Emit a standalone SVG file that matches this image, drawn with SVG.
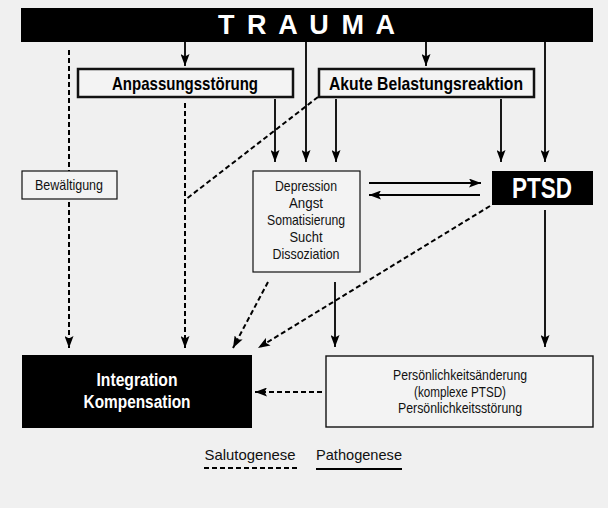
<svg xmlns="http://www.w3.org/2000/svg" width="608" height="508" viewBox="0 0 608 508">
<defs>
<marker id="ah" viewBox="0 0 12 9" refX="12" refY="4.5" markerWidth="12" markerHeight="9" markerUnits="userSpaceOnUse" orient="auto">
<path d="M0,0 L12,4.5 L0,9 L2.5,4.5 z" fill="#000"/>
</marker>
<style>
.bg{fill:#f0f0f0}
.box{fill:#f3f3f3;stroke:#111}
.blk{fill:#000}
.sol{fill:none;stroke:#000;stroke-width:1.8}
.dsh{fill:none;stroke:#000;stroke-width:2;stroke-dasharray:5 3}
.tb{font-family:"Liberation Sans",Arial,sans-serif;font-weight:bold;text-anchor:middle}
.tr{font-family:"Liberation Sans",Arial,sans-serif;font-size:15px;text-anchor:middle;fill:#111}
.w{fill:#fff}
</style>
</defs>
<rect class="bg" x="0" y="0" width="608" height="508"/>

<g id="connectors">
<line class="sol" x1="185" y1="42" x2="185" y2="66" marker-end="url(#ah)"/>
<line class="sol" x1="426" y1="42" x2="426" y2="66" marker-end="url(#ah)"/>
<line class="sol" x1="306" y1="42" x2="306" y2="162" marker-end="url(#ah)"/>
<line class="sol" x1="275" y1="99" x2="275" y2="162" marker-end="url(#ah)"/>
<line class="sol" x1="336" y1="99" x2="336" y2="162" marker-end="url(#ah)"/>
<line class="sol" x1="501" y1="99" x2="501" y2="162" marker-end="url(#ah)"/>
<line class="sol" x1="545" y1="42" x2="545" y2="162" marker-end="url(#ah)"/>
<line class="sol" x1="369" y1="183" x2="481" y2="183" marker-end="url(#ah)"/>
<line class="sol" x1="480" y1="195" x2="369" y2="195" marker-end="url(#ah)"/>
<line class="sol" x1="335" y1="282" x2="335" y2="347" marker-end="url(#ah)"/>
<line class="sol" x1="545" y1="210" x2="545" y2="347" marker-end="url(#ah)"/>
<line class="dsh" x1="69" y1="50" x2="69" y2="348" marker-end="url(#ah)"/>
<line class="dsh" x1="185" y1="103" x2="185" y2="348" marker-end="url(#ah)"/>
<line class="dsh" x1="318" y1="97" x2="185" y2="200"/>
<line class="dsh" x1="268" y1="282" x2="233" y2="348" marker-end="url(#ah)"/>
<line class="dsh" x1="490" y1="206" x2="258" y2="348" marker-end="url(#ah)"/>
<line class="dsh" x1="322" y1="392" x2="255" y2="392" marker-end="url(#ah)"/>
</g>

<g id="trauma">
<rect class="blk" x="21" y="8" width="572" height="34"/>
<text class="tb w" x="306.5" y="34" font-size="27" textLength="177" lengthAdjust="spacing">T R A U M A</text>
</g>

<g id="anpassung">
<rect class="box" x="78" y="69" width="215" height="28" stroke-width="2.5"/>
<text class="tb" x="185" y="90" font-size="19" textLength="146" lengthAdjust="spacingAndGlyphs">Anpassungsstörung</text>
</g>

<g id="akute">
<rect class="box" x="319" y="69" width="215" height="28" stroke-width="2.5"/>
<text class="tb" x="426" y="90" font-size="19" textLength="194" lengthAdjust="spacingAndGlyphs">Akute Belastungsreaktion</text>
</g>

<g id="bewaeltigung">
<rect class="box" x="22" y="171" width="95" height="28" stroke-width="1.2"/>
<text class="tr" x="69" y="190" textLength="68" lengthAdjust="spacingAndGlyphs">Bewältigung</text>
</g>

<g id="depression">
<rect class="box" x="253" y="171" width="107" height="101" stroke-width="1.2"/>
<text class="tr" x="306" y="191" textLength="62" lengthAdjust="spacingAndGlyphs">Depression</text>
<text class="tr" x="306" y="208" textLength="34" lengthAdjust="spacingAndGlyphs">Angst</text>
<text class="tr" x="306" y="225" textLength="78" lengthAdjust="spacingAndGlyphs">Somatisierung</text>
<text class="tr" x="306" y="242" textLength="33" lengthAdjust="spacingAndGlyphs">Sucht</text>
<text class="tr" x="306" y="259" textLength="67" lengthAdjust="spacingAndGlyphs">Dissoziation</text>
</g>

<g id="ptsd">
<rect class="blk" x="492" y="171" width="101" height="34"/>
<text class="tb w" x="542" y="198" font-size="29" textLength="60" lengthAdjust="spacingAndGlyphs">PTSD</text>
</g>

<g id="integration">
<rect class="blk" x="22" y="355" width="230" height="73"/>
<text class="tb w" x="137" y="386" font-size="18" textLength="81" lengthAdjust="spacingAndGlyphs">Integration</text>
<text class="tb w" x="137" y="408" font-size="18" textLength="107" lengthAdjust="spacingAndGlyphs">Kompensation</text>
</g>

<g id="persoenlichkeit">
<rect class="box" x="326" y="356" width="267" height="71" stroke-width="1.4"/>
<text class="tr" x="460" y="380" textLength="134" lengthAdjust="spacingAndGlyphs">Persönlichkeitsänderung</text>
<text class="tr" x="460" y="397" textLength="92" lengthAdjust="spacingAndGlyphs">(komplexe PTSD)</text>
<text class="tr" x="460" y="413" textLength="124" lengthAdjust="spacingAndGlyphs">Persönlichkeitsstörung</text>
</g>

<g id="legend">
<text class="tr" x="250" y="460" font-size="18" textLength="91" lengthAdjust="spacingAndGlyphs">Salutogenese</text>
<line class="dsh" x1="204" y1="468" x2="298" y2="468"/>
<text class="tr" x="359" y="460" font-size="18" textLength="86" lengthAdjust="spacingAndGlyphs">Pathogenese</text>
<line class="sol" x1="316" y1="469" x2="402" y2="469"/>
</g>
</svg>
